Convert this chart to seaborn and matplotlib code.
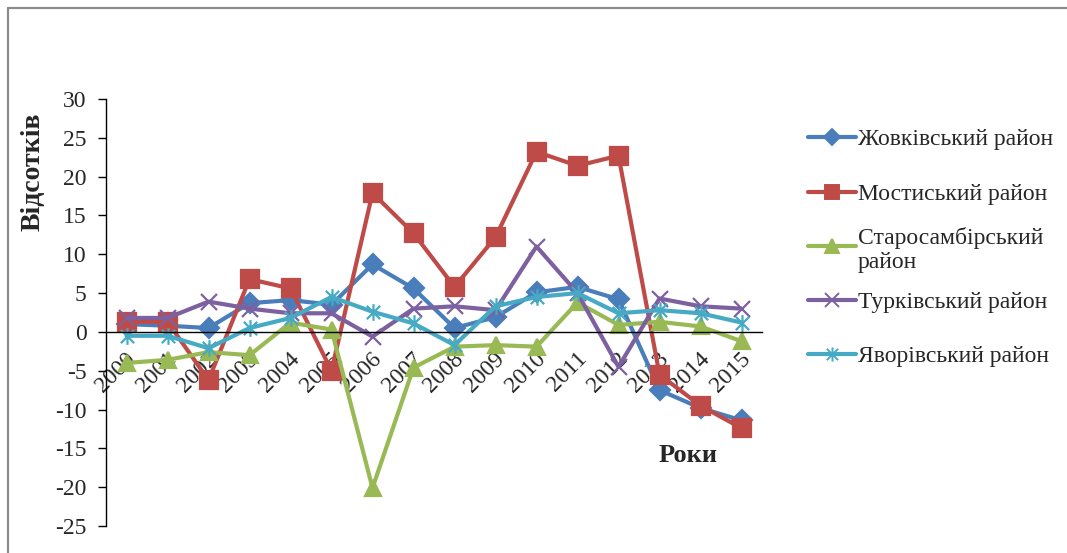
import numpy as np
import pandas as pd
import matplotlib
matplotlib.use("Agg")
import matplotlib.pyplot as plt
import matplotlib.transforms as mtransforms
from matplotlib.path import Path
from matplotlib.lines import Line2D
import seaborn as sns

# Annual change by district, per cent
years = [str(y) for y in range(2000, 2016)]
zhovkva = [1.0, 0.8, 0.5, 3.7, 4.1, 3.5, 8.7, 5.6, 0.5, 1.9, 5.1, 5.8, 4.2, -7.5, -9.8, -11.4]
mostyska = [1.3, 1.3, -6.2, 6.8, 5.6, -5.0, 17.9, 12.7, 5.8, 12.2, 23.2, 21.4, 22.7, -5.5, -9.5, -12.4]
starosambir = [-4.0, -3.6, -2.6, -3.0, 1.2, 0.3, -20.1, -4.6, -1.9, -1.7, -1.9, 3.8, 0.9, 1.3, 0.7, -1.2]
turka = [1.8, 1.8, 3.9, 3.0, 2.4, 2.4, -0.6, 3.0, 3.3, 2.8, 11.0, 5.0, -4.5, 4.3, 3.3, 3.0]
yavoriv = [-0.5, -0.5, -2.1, 0.5, 1.8, 4.5, 2.6, 1.1, -1.7, 3.3, 4.5, 5.0, 2.4, 2.8, 2.4, 1.2]

districts = ["Жовківський район", "Мостиський район", "Старосамбірський район",
             "Турківський район", "Яворівський район"]
legend_labels = ["Жовківський район", "Мостиський район", "Старосамбірський\nрайон",
                 "Турківський район", "Яворівський район"]
series = [zhovkva, mostyska, starosambir, turka, yavoriv]
colors = ["#4A7EBB", "#BE4B48", "#98B954", "#7D60A0", "#46AAC5"]

# asterisk marker: an "x" with a vertical stroke through it
star_path = Path([(-1, -1), (1, 1), (-1, 1), (1, -1), (0, -1.25), (0, 1.25)],
                 [Path.MOVETO, Path.LINETO, Path.MOVETO, Path.LINETO, Path.MOVETO, Path.LINETO])
markers = ["D", "s", "^", "x", star_path]
msizes = [10, 12.5, 11.5, 12, 12]

df = pd.DataFrame({"Рік": years * len(districts),
                   "Район": np.repeat(districts, len(years)),
                   "Відсотків": np.concatenate(series)})

sns.set_style("white")
plt.rcParams["font.family"] = ["Liberation Serif", "DejaVu Serif"]
plt.rcParams["axes.unicode_minus"] = False

W, H = 1067, 553
fig = plt.figure(figsize=(W / 100, H / 100), dpi=100)
ax = fig.add_axes([106 / W, 1 - 526 / H, (762 - 106) / W, (526 - 99) / H])

for name, col, mk, ms in zip(districts, colors, markers, msizes):
    sub = df[df["Район"] == name]
    sns.lineplot(data=sub, x="Рік", y="Відсотків", ax=ax, color=col, linewidth=3.0,
                 marker=mk, markersize=ms, markeredgecolor=col, markerfacecolor=col,
                 markeredgewidth=1.6, legend=False, sort=False)

ax.set_xlim(-0.5, len(years) - 0.5)
ax.set_ylim(-25, 30)
ax.set_yticks(np.arange(-25, 31, 5))
ax.set_yticklabels([str(v) for v in range(-25, 31, 5)])

for s in ["top", "right"]:
    ax.spines[s].set_visible(False)
ax.spines["bottom"].set_position(("data", 0))
for s in ["left", "bottom"]:
    ax.spines[s].set_color("black")
    ax.spines[s].set_linewidth(1.0)

ax.set_xticks(np.arange(len(years)))
ax.set_xticks(np.arange(-0.5, len(years), 1), minor=True)
ax.tick_params(axis="x", which="major", length=0, pad=17, labelsize=17)
ax.tick_params(axis="x", which="minor", length=6, width=1, direction="out", color="black")
ax.tick_params(axis="y", which="major", length=6, width=1, direction="out", color="black",
               pad=8, labelsize=17, left=True)
shift = mtransforms.ScaledTranslation(6 / 100, 0, fig.dpi_scale_trans)
for lab in ax.get_xticklabels():
    lab.set_rotation(45)
    lab.set_ha("right")
    lab.set_va("center")
    lab.set_rotation_mode("anchor")
    lab.set_transform(lab.get_transform() + shift)

ax.set_xlabel("")
ax.set_ylabel("")
ax.grid(False)
ax.patch.set_alpha(0)

fig.text(33 / W, 1 - 172 / H, "Відсотків", rotation=90, ha="center", va="center",
         fontsize=20, fontweight="bold")
fig.text(688 / W, 1 - 455 / H, "Роки", ha="center", va="center",
         fontsize=19, fontweight="bold")

# legend drawn in figure pixels
rows = [137, 192, 246, 300, 354]
for lbl, col, mk, ms, y in zip(legend_labels, colors, markers, msizes, rows):
    fy = 1 - y / H
    fig.add_artist(Line2D([808 / W, 856 / W], [fy, fy], color=col, linewidth=3.0,
                          transform=fig.transFigure))
    fig.add_artist(Line2D([832 / W], [fy], marker=mk, markersize=ms * 0.85,
                          markeredgecolor=col, markerfacecolor=col, markeredgewidth=1.4,
                          linestyle="none", transform=fig.transFigure))
    fig.text(858 / W, fy, lbl, ha="left", va="center_baseline", fontsize=17,
             linespacing=1.2)

# outer frame: top and left edges
frame_kw = dict(color="#8C8C8C", linewidth=1.6, transform=fig.transFigure)
fig.add_artist(Line2D([8 / W, 1.0], [1 - 8 / H, 1 - 8 / H], **frame_kw))
fig.add_artist(Line2D([8 / W, 8 / W], [1 - 8 / H, 0.0], **frame_kw))

fig.savefig("out.png", dpi=100)
